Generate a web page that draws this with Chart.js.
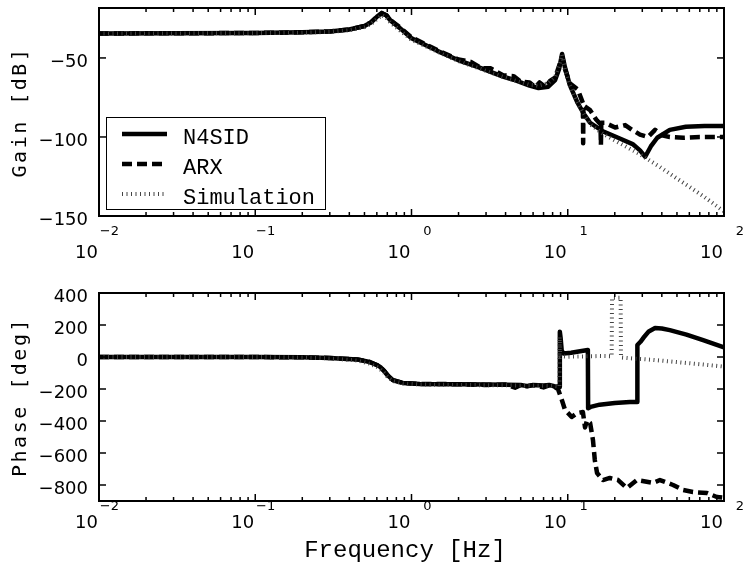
<!DOCTYPE html>
<html>
<head>
<meta charset="utf-8">
<script src="https://cdn.jsdelivr.net/npm/chart.js@4/dist/chart.umd.min.js"></script>
<style>
  html, body { margin: 0; padding: 0; background: #fff; }
  #wrap { position: relative; width: 745px; height: 571px; }
  canvas { position: absolute; left: 0; }
  #gainCanvas { top: 0; }
  #phaseCanvas { top: 270px; }
</style>
</head>
<body>
<div id="wrap">
  <canvas id="gainCanvas" width="745" height="270"></canvas>
  <canvas id="phaseCanvas" width="745" height="301"></canvas>
</div>
<script>
// Frequency response (Bode) of the identified models versus the simulation model.
const seriesNames = ['N4SID', 'ARX', 'Simulation'];

// Gain [dB]
const n4sidGainFreq = [0.01, 0.03, 0.1, 0.2, 0.3, 0.4, 0.5, 0.55, 0.6, 0.645, 0.69, 0.73, 0.84, 1.0, 1.46, 2.0, 2.7, 3.85, 4.5, 5.7, 6.5, 7.5, 8.3, 8.8, 9.2, 9.6, 10.3, 11.5, 12.6, 13.9, 16.8, 21, 26, 29, 31.3, 34, 37.4, 45, 57, 75, 100];
const n4sidGain = [-34.5, -34.4, -34.2, -33.8, -33.2, -32, -29.8, -27.5, -24, -21.5, -23, -26, -31, -37.5, -45.5, -51.5, -56, -61.8, -63.8, -67.5, -69, -68.2, -64, -57, -47.5, -56, -67, -78, -85, -91, -96.5, -100.5, -104.5, -108.5, -112.5, -106, -100.5, -95.5, -93.5, -93, -93];

const arxGainFreq = [0.01, 0.03, 0.1, 0.2, 0.3, 0.4, 0.5, 0.55, 0.6, 0.645, 0.69, 0.73, 0.84, 1.0, 1.46, 2.0, 2.4, 2.8, 3.2, 3.85, 4.5, 5.0, 5.7, 6.2, 6.6, 7.2, 7.7, 8.3, 8.8, 9.2, 9.6, 10.3, 11.6, 12.5, 12.55, 12.6, 13.9, 15.2, 16.2, 16.3, 16.4, 17.3, 20.1, 23.3, 25.8, 29, 32.6, 36.2, 40.1, 45, 55, 70, 100];
const arxGain = [-34.5, -34.4, -34.2, -33.8, -33.2, -32, -29.8, -27.5, -24, -21.8, -23, -26, -30.5, -37, -45, -51, -52.5, -56.5, -56.5, -61, -61.5, -65, -65.5, -68.5, -65.5, -68.5, -64.5, -62.5, -55, -49, -57, -66, -70, -78.5, -104, -80, -83, -89, -92, -105, -91, -91, -94, -92.5, -95.5, -98.5, -100, -95.5, -99, -100, -100.5, -100, -100];

const simGainFreq = [0.01, 0.03, 0.1, 0.2, 0.3, 0.4, 0.5, 0.55, 0.6, 0.645, 0.69, 0.73, 0.84, 1.0, 1.46, 2.0, 2.7, 3.85, 4.5, 5.7, 6.5, 7.5, 8.3, 8.8, 9.2, 9.6, 10.3, 11.5, 12.6, 13.9, 16.8, 20.7, 29, 38.9, 47, 60, 75, 95, 100];
const simGain = [-34.6, -34.5, -34.3, -34, -33.5, -32.5, -30.5, -28.5, -25.5, -23, -24.5, -27.5, -32.5, -38.5, -46, -52, -56.5, -62, -64, -67, -67.5, -66, -62, -55, -48, -57, -67, -78, -85, -92, -98, -103, -111, -119, -124.5, -131.5, -138, -145.5, -147];

// Phase [deg]
const n4sidPhaseFreq = [0.01, 0.1, 0.2, 0.3, 0.45, 0.54, 0.6, 0.63, 0.67, 0.70, 0.76, 0.88, 1.13, 2, 3, 4, 5, 5.5, 6, 7, 7.6, 8.2, 8.85, 8.9, 9.0, 9.15, 9.4, 10.5, 12, 13.45, 13.5, 14, 16, 20, 25, 27.8, 27.9, 29.2, 30.5, 33, 36.2, 40, 45, 57.5, 73.5, 100];
const n4sidPhase = [0, 0, -2, -6, -15, -31, -50, -62, -88, -112, -144, -162, -168, -170, -172, -173, -175, -182, -175, -178, -175, -183, -188, 158, 120, 40, 22, 27, 36, 44, -320, -312, -298, -287, -282, -281, 75, 95, 120, 160, 181, 178, 168, 140, 105, 60];

const arxPhaseFreq = [0.01, 0.1, 0.2, 0.3, 0.45, 0.54, 0.6, 0.63, 0.67, 0.70, 0.76, 0.88, 1.13, 2, 3, 4, 4.6, 5, 5.5, 6, 7, 7.6, 8.2, 8.66, 9.18, 9.6, 10.6, 11.5, 12.5, 12.9, 13.3, 13.9, 14.5, 14.9, 15.4, 16.8, 18.6, 21.0, 23.9, 27.7, 35.1, 38.9, 47.2, 54.7, 63.3, 77.9, 90, 100];
const arxPhase = [0, 0, -2, -6, -15, -31, -50, -62, -88, -112, -144, -162, -168, -170, -175, -172, -192, -176, -183, -176, -190, -178, -185, -200, -270, -330, -375, -350, -344, -440, -395, -412, -519, -644, -725, -769, -756, -769, -819, -769, -787, -769, -800, -831, -844, -850, -875, -880];

const simPhaseFreq = [0.01, 0.1, 0.2, 0.3, 0.45, 0.54, 0.6, 0.63, 0.67, 0.70, 0.76, 0.88, 1.13, 2, 4, 6, 8, 8.85, 8.88, 8.95, 10, 13, 16, 19.1, 19.2, 21.8, 21.9, 25, 35, 50, 70, 100];
const simPhase = [0, 0, -3, -9, -22, -42, -62, -76, -100, -122, -150, -165, -172, -175, -177, -178, -180, -185, 125, 5, 2, 4, 6, 5, 370, 370, -3, -8, -18, -32, -45, -60];

// Axis ticks
const freqDecades = [-2, -1, 0, 1, 2];
const gainTicks = [-150, -100, -50];
const phaseTicks = [-800, -600, -400, -200, 0, 200, 400];

const toPoints = (fs, vs) => fs.map((f, i) => ({ x: f, y: vs[i] }));

const styles = [
  { borderColor: '#000', borderWidth: 4.5, borderDash: [], order: 3 },
  { borderColor: '#000', borderWidth: 4.5, borderDash: [10, 5], order: 2 },
  { borderColor: '#444', borderWidth: 4, borderDash: [1, 3.5], order: 1, borderCapStyle: 'butt' }
];

const MINUS = '\u2212';
const fmt = v => (v < 0 ? MINUS + Math.abs(v) : String(v));

// Draws the boxed frame, inward ticks on all four sides, tick labels, titles and legend.
const bodeFrame = {
  id: 'bodeFrame',
  afterDraw(chart, args, o) {
    const { ctx, chartArea: a } = chart;
    const x = chart.scales.x, y = chart.scales.y;
    const seg = (x1, y1, x2, y2) => { ctx.beginPath(); ctx.moveTo(x1, y1); ctx.lineTo(x2, y2); ctx.stroke(); };
    ctx.save();
    ctx.strokeStyle = '#000';
    ctx.setLineDash([]);
    ctx.lineWidth = 1.5;
    for (const d of freqDecades) {
      for (let k = 1; k <= 9; k++) {
        const v = k * Math.pow(10, d);
        if (v > 100.0001) continue;
        const px = x.getPixelForValue(v);
        const len = k === 1 ? 7 : 4;
        seg(px, a.bottom, px, a.bottom - len);
        seg(px, a.top, px, a.top + len);
      }
    }
    for (const t of o.yTicks) {
      const py = y.getPixelForValue(t);
      seg(a.left, py, a.left + 7, py);
      seg(a.right, py, a.right - 7, py);
    }
    ctx.lineWidth = 2;
    ctx.strokeRect(a.left, a.top, a.right - a.left, a.bottom - a.top);

    ctx.fillStyle = '#000';
    // y tick labels
    ctx.font = '18px "DejaVu Sans"';
    ctx.textAlign = 'right';
    ctx.textBaseline = 'middle';
    for (const t of o.yTicks) {
      ctx.fillText(fmt(t), a.left - 11, y.getPixelForValue(t) + 4);
    }
    // x tick labels: 10 with a raised exponent
    ctx.textBaseline = 'alphabetic';
    for (const d of freqDecades) {
      const px = x.getPixelForValue(Math.pow(10, d));
      ctx.font = '18px "DejaVu Sans"';
      ctx.textAlign = 'right';
      ctx.fillText('10', px - 1, o.baseY);
      ctx.font = '13px "DejaVu Sans"';
      ctx.fillText(fmt(d), px + 20, o.expY);
    }
    // y axis title
    ctx.save();
    ctx.translate(21, (a.top + a.bottom) / 2);
    ctx.rotate(-Math.PI / 2);
    ctx.font = '20px "DejaVu Sans Mono"';
    ctx.letterSpacing = '2.5px';
    ctx.textAlign = 'center';
    ctx.textBaseline = 'middle';
    ctx.fillText(o.yTitle, 0, 0);
    ctx.restore();
    // x axis title
    if (o.xTitle) {
      ctx.font = '24px "Liberation Mono"';
      ctx.textAlign = 'center';
      ctx.fillText(o.xTitle, 405, o.xTitleY);
    }
    // legend box
    if (o.legend) {
      const L = o.legend;
      ctx.fillStyle = '#fff';
      ctx.fillRect(L.x, L.y, L.w, L.h);
      ctx.lineWidth = 1;
      ctx.strokeStyle = '#000';
      ctx.strokeRect(L.x + 0.5, L.y + 0.5, L.w, L.h);
      chart.data.datasets.forEach((ds, i) => {
        const ly = L.y + 17 + i * 30;
        ctx.save();
        ctx.strokeStyle = ds.borderColor;
        ctx.lineWidth = ds.borderWidth;
        ctx.lineCap = 'butt';
        ctx.setLineDash(ds.borderDash || []);
        seg(L.x + 16, ly, L.x + 61, ly);
        ctx.restore();
        ctx.fillStyle = '#000';
        ctx.font = '22px "Liberation Mono"';
        ctx.textAlign = 'left';
        ctx.textBaseline = 'middle';
        ctx.fillText(ds.label, L.x + 77, ly + 4);
      });
    }
    ctx.restore();
  }
};

function makeChart(id, sets, yMin, yMax, padding, frameOpts) {
  return new Chart(document.getElementById(id), {
    type: 'line',
    data: {
      datasets: sets.map((s, i) => Object.assign({
        label: seriesNames[i],
        data: s,
        pointRadius: 0,
        fill: false,
        tension: 0,
        borderJoinStyle: 'round'
      }, styles[i]))
    },
    options: {
      responsive: false,
      animation: false,
      layout: { padding },
      scales: {
        x: { type: 'logarithmic', min: 0.01, max: 100, display: false },
        y: { type: 'linear', min: yMin, max: yMax, display: false }
      },
      plugins: {
        legend: { display: false },
        tooltip: { enabled: false },
        bodeFrame: frameOpts
      }
    },
    plugins: [bodeFrame]
  });
}

makeChart('gainCanvas',
  [toPoints(n4sidGainFreq, n4sidGain), toPoints(arxGainFreq, arxGain), toPoints(simGainFreq, simGain)],
  -150, -18.4,
  { left: 99, right: 21, top: 8, bottom: 54 },
  { yTicks: gainTicks, yTitle: 'Gain [dB]', baseY: 258, expY: 235,
    legend: { x: 106, y: 117, w: 219, h: 92 } });

makeChart('phaseCanvas',
  [toPoints(n4sidPhaseFreq, n4sidPhase), toPoints(arxPhaseFreq, arxPhase), toPoints(simPhaseFreq, simPhase)],
  -900, 400,
  { left: 99, right: 21, top: 23, bottom: 70 },
  { yTicks: phaseTicks, yTitle: 'Phase [deg]', baseY: 258, expY: 240,
    xTitle: 'Frequency [Hz]', xTitleY: 287 });
</script>
</body>
</html>
